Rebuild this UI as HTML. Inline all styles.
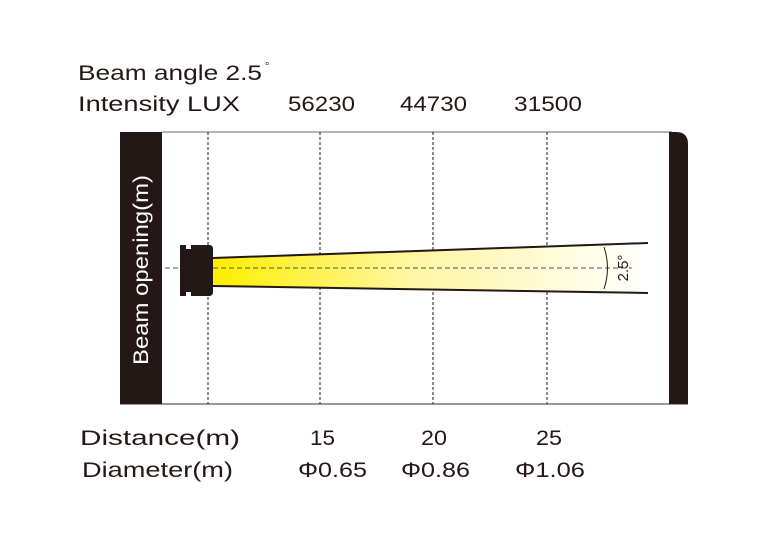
<!DOCTYPE html>
<html><head><style>body{margin:0;background:#fff}svg{display:block}</style></head><body>
<svg width="780" height="537" xmlns="http://www.w3.org/2000/svg" font-family="Liberation Sans, sans-serif">
<defs><linearGradient id="g" x1="213" x2="648" y1="0" y2="0" gradientUnits="userSpaceOnUse">
<stop offset="0" stop-color="#ffee00"/><stop offset="0.45" stop-color="#fff6a0"/><stop offset="1" stop-color="#ffffff"/></linearGradient></defs>
<g fill="#231815" font-size="21">
<text x="78" y="80" textLength="184" lengthAdjust="spacingAndGlyphs">Beam angle 2.5</text>
<text x="265" y="70" font-size="11">°</text>
<text x="78" y="111" textLength="162" lengthAdjust="spacingAndGlyphs">Intensity LUX</text>
<text x="288" y="111" textLength="67" lengthAdjust="spacingAndGlyphs">56230</text>
<text x="400" y="111" textLength="67" lengthAdjust="spacingAndGlyphs">44730</text>
<text x="514" y="111" textLength="68" lengthAdjust="spacingAndGlyphs">31500</text>
<text x="80" y="445" textLength="160" lengthAdjust="spacingAndGlyphs">Distance(m)</text>
<text x="82" y="477" textLength="151" lengthAdjust="spacingAndGlyphs">Diameter(m)</text>
<text x="310" y="445" textLength="25" lengthAdjust="spacingAndGlyphs">15</text>
<text x="421" y="445" textLength="26" lengthAdjust="spacingAndGlyphs">20</text>
<text x="536" y="445" textLength="26" lengthAdjust="spacingAndGlyphs">25</text>
<text x="298" y="477" textLength="69" lengthAdjust="spacingAndGlyphs">Φ0.65</text>
<text x="401" y="477" textLength="69" lengthAdjust="spacingAndGlyphs">Φ0.86</text>
<text x="515" y="477" textLength="70" lengthAdjust="spacingAndGlyphs">Φ1.06</text>
</g>
<line x1="162" y1="132" x2="672" y2="132" stroke="#999" stroke-width="1.5"/>
<line x1="120" y1="404" x2="688" y2="404" stroke="#777" stroke-width="1.5"/>
<rect x="120" y="132" width="42" height="272" fill="#231815"/>
<text transform="translate(148,365) rotate(-90)" fill="#fff" font-size="21" textLength="190" lengthAdjust="spacingAndGlyphs">Beam opening(m)</text>
<path d="M669 132 H676 Q688 132 688 144 V404 H669 Z" fill="#231815"/>
<g stroke="#231815" stroke-width="1" stroke-dasharray="3,2">
<line x1="208" y1="132" x2="208" y2="404"/><line x1="320" y1="132" x2="320" y2="404"/>
<line x1="433" y1="132" x2="433" y2="404"/><line x1="547" y1="132" x2="547" y2="404"/>
</g>
<polygon points="213,258 648,243 648,293 213,286" fill="url(#g)"/>
<line x1="213" y1="258" x2="648" y2="243" stroke="#231815" stroke-width="2"/>
<line x1="213" y1="286" x2="648" y2="293" stroke="#231815" stroke-width="2"/>
<line x1="165" y1="268" x2="632" y2="268" stroke="#555" stroke-width="1" stroke-dasharray="5,3"/>
<path d="M180 245 H186 V249 H191 V245 H209 Q213 245 213 249 V292 Q213 296 209 296 H191 V292 H186 V296 H180 Z" fill="#231815"/>
<path d="M604 247 Q611 268 604 289" fill="none" stroke="#231815" stroke-width="1"/>
<text transform="translate(628,268) rotate(-90)" text-anchor="middle" font-size="15" fill="#231815">2.5°</text>
</svg>
</body></html>
